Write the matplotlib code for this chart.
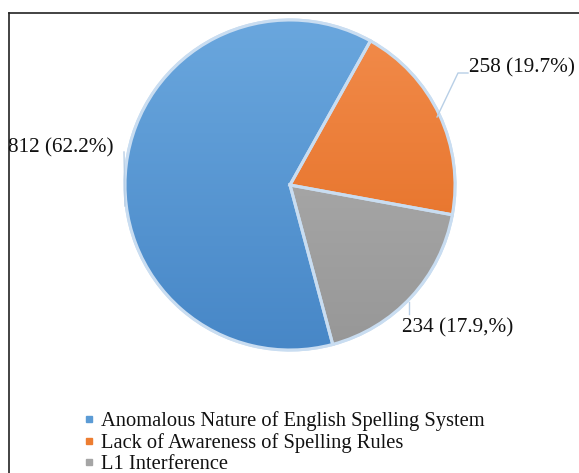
import numpy as np
import matplotlib
matplotlib.use("Agg")
import matplotlib.pyplot as plt
from matplotlib.lines import Line2D
from matplotlib.patches import Wedge
from matplotlib.colors import LinearSegmentedColormap

categories = ["Anomalous Nature of English Spelling System",
              "Lack of Awareness of Spelling Rules",
              "L1 Interference"]
values = [812, 258, 234]
value_labels = ["812 (62.2%)", "258 (19.7%)", "234 (17.9,%)"]
colors = ["#5b9bd5", "#ed7d31", "#a5a5a5"]
grad_top = ["#6aa7de", "#f28c4c", "#b3b3b3"]
grad_bot = ["#4787c7", "#e2691c", "#979797"]

W, H = 579, 473
fig = plt.figure(figsize=(W / 100, H / 100), dpi=100)
plt.rcParams['font.family'] = ['Liberation Serif', 'DejaVu Serif']

def fx(px):
    return px / W

def fy(py):
    return 1 - py / H

# pie axes: centre (290,185) px, radius 165 px
cx, cy, R = 290, 185, 165
half = 200
ax = fig.add_axes([fx(cx - half), fy(cy + half), 2 * half / W, 2 * half / H])
lim = half / R
ax.set_aspect('equal')
ax.axis('off')

wedges, _ = ax.pie(values, colors=colors, startangle=285, counterclock=False,
                   radius=1.0,
                   wedgeprops=dict(edgecolor="#c9ddf1", linewidth=2.2))

# gradient fill clipped to each wedge, then edge on top
grad = np.linspace(0, 1, 256).reshape(-1, 1)
for w, t, b in zip(wedges, grad_top, grad_bot):
    cmap = LinearSegmentedColormap.from_list("g", [t, b])
    im = ax.imshow(grad, extent=(-1, 1, -1, 1), origin='upper', cmap=cmap,
                   aspect='auto', zorder=w.get_zorder() + 0.1)
    im.set_clip_path(w)
for w in wedges:
    edge = Wedge(w.center, w.r, w.theta1, w.theta2, facecolor='none',
                 edgecolor="#c9ddf1", linewidth=2.2, zorder=5)
    ax.add_patch(edge)
ax.set_xlim(-lim, lim)
ax.set_ylim(-lim, lim)

# figure border (top and left)
fig.add_artist(Line2D([fx(9), 1], [fy(13), fy(13)], color="#222222", lw=1.2))
fig.add_artist(Line2D([fx(9), fx(9)], [fy(13), 0], color="#222222", lw=1.2))

lead = "#b8cfe6"
# leader lines (pixel coords)
fig.add_artist(Line2D([fx(124), fx(125)], [fy(152), fy(206)], color=lead, lw=1))
fig.add_artist(Line2D([fx(468), fx(458), fx(437)], [fy(73), fy(73), fy(117)], color=lead, lw=1))
fig.add_artist(Line2D([fx(409), fx(409)], [fy(302), fy(314)], color=lead, lw=1))

lab_pos = [(8, 148), (469, 68), (402, 328)]
for (x, y), t in zip(lab_pos, value_labels):
    fig.text(fx(x), fy(y), t, ha='left', va='center', fontsize=15.3, color="#111111")

# legend
handles = [Line2D([], [], marker='s', linestyle='none', markersize=5,
                  markerfacecolor=c, markeredgecolor=c) for c in colors]
leg = fig.legend(handles, categories, loc='upper left',
                 bbox_to_anchor=(fx(84), fy(411)), frameon=False,
                 fontsize=14.8, handlelength=0.5, handletextpad=0.35,
                 labelspacing=0.1, borderpad=0, borderaxespad=0)
for t in leg.get_texts():
    t.set_color("#111111")

fig.savefig("out.png", dpi=100)
